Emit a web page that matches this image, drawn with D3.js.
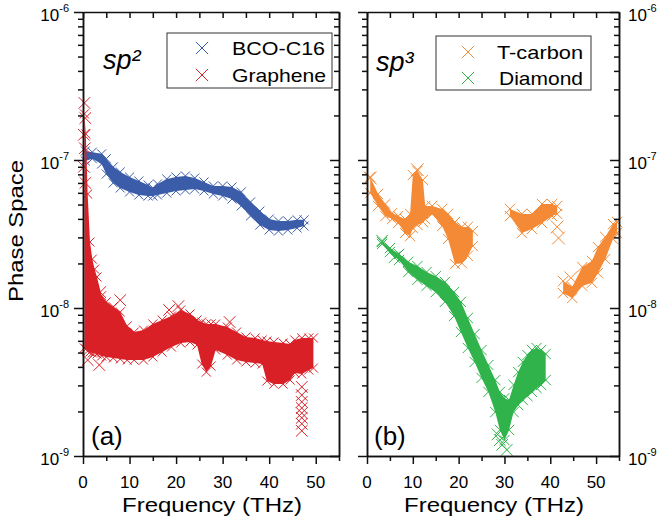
<!DOCTYPE html>
<html>
<head>
<meta charset="utf-8">
<script src="https://cdn.jsdelivr.net/npm/d3@7"></script>
<style>
  body { margin: 0; background: #fff; }
  text { font-family: "Liberation Sans", Arial, sans-serif; fill: #000; }
</style>
</head>
<body>
<div id="chart"></div>
<script>
// ---- data (frequency in THz, phase space) ----
// band edges: upper and lower envelope of the dense scatter
var bcoFreq = [0.5, 2, 4, 5, 6.5, 8, 10, 12, 14, 15, 16, 18, 20, 22, 24, 26, 28, 30, 32, 34, 36, 38, 40, 42, 44, 46, 47.5];
var bcoHigh = [1.15e-7, 1.13e-7, 1.10e-7, 1.02e-7, 8.97e-8, 8.3e-8, 7.67e-8, 7.21e-8, 6.78e-8, 6.47e-8, 6.89e-8, 7.44e-8, 7.67e-8, 7.8e-8, 7.55e-8, 7.1e-8, 6.67e-8, 6.67e-8, 6.57e-8, 6.08e-8, 5.2e-8, 4.52e-8, 3.99e-8, 3.87e-8, 3.87e-8, 3.94e-8, 3.94e-8];
var bcoLow  = [9.85e-8, 1.02e-7, 9.4e-8, 8.04e-8, 7.0e-8, 6.47e-8, 6.08e-8, 5.8e-8, 5.71e-8, 5.71e-8, 5.8e-8, 5.98e-8, 6.18e-8, 6.27e-8, 6.37e-8, 6.18e-8, 5.89e-8, 5.71e-8, 5.45e-8, 4.89e-8, 4.19e-8, 3.64e-8, 3.37e-8, 3.31e-8, 3.37e-8, 3.47e-8, 3.58e-8];

var grFreq = [0.3, 0.6, 1, 1.5, 2, 2.5, 3, 4, 5, 6.5, 8, 9.5, 11, 13, 15, 17, 19, 21, 23, 24.5, 25.5, 26.5, 27.5, 28.5, 31, 33, 35, 37, 38.5, 39.5, 41, 43, 44.5, 45.5, 47, 48.5, 49.5];
var grHigh = [2.05e-7, 1.5e-7, 5.89e-8, 2.79e-8, 2.14e-8, 1.83e-8, 1.62e-8, 1.21e-8, 1.1e-8, 1.02e-8, 9.4e-9, 7.56e-9, 6.88e-9, 7.1e-9, 7.8e-9, 8.3e-9, 8.83e-9, 9.69e-9, 9.11e-9, 8.3e-9, 8.04e-9, 7.8e-9, 7.8e-9, 7.8e-9, 7.44e-9, 6.88e-9, 6.37e-9, 6.27e-9, 6.08e-9, 5.98e-9, 5.89e-9, 5.8e-9, 5.71e-9, 6.08e-9, 6.27e-9, 6.27e-9, 6.27e-9];
var grLow  = [5.37e-9, 5.28e-9, 5.12e-9, 5.04e-9, 4.97e-9, 4.97e-9, 4.89e-9, 4.74e-9, 4.67e-9, 4.59e-9, 4.52e-9, 4.45e-9, 4.45e-9, 4.45e-9, 4.67e-9, 5.04e-9, 5.45e-9, 5.8e-9, 5.89e-9, 5.62e-9, 4.18e-9, 3.69e-9, 4.05e-9, 5.2e-9, 4.81e-9, 4.45e-9, 4.32e-9, 4.25e-9, 4.18e-9, 3.21e-9, 3.06e-9, 3.06e-9, 3.26e-9, 3.64e-9, 3.58e-9, 3.81e-9, 3.93e-9];
var grOutFreq = [0.3, 0.5, 0.2, 0.4, 0.2, 0.5, 3.7, 8, 18.5, 20.5, 31.5, 3.5, 1, 47, 47, 47, 47, 47, 47, 47, 47];
var grOutVal  = [2.43e-7, 1.92e-7, 1.48e-7, 1.2e-7, 9e-8, 7e-8, 1.28e-8, 1.13e-8, 9.7e-9, 1.03e-8, 8.04e-9, 4.12e-9, 4.45e-9, 2.93e-9, 2.58e-9, 2.32e-9, 2.11e-9, 1.95e-9, 1.81e-9, 1.65e-9, 1.48e-9];

// null = no points in that frequency range
var tcFreq = [0.7, 2.4, 4, 5.5, 6.8, 8.3, 9.4, 10, 11, 12.2, 12.7, 14.2, 16.4, 17.7, 19.2, 20.7, 22, 23.1, 27, 31.2, 33.8, 36, 38.2, 40.4, 41.5, 42, 42.8, 44.8, 47, 49.1, 50.4, 52, 53.7, 54.6];
var tcHigh = [7.67e-8, 5.89e-8, 5.04e-8, 4.38e-8, 4.18e-8, 3.99e-8, 4.32e-8, 7.92e-8, 8.43e-8, 7.33e-8, 4.89e-8, 4.89e-8, 4.67e-8, 4.32e-8, 3.81e-8, 3.53e-8, 3.53e-8, 3.31e-8, null, 4.67e-8, 4.32e-8, 4.32e-8, 5.04e-8, 5.04e-8, 4.89e-8, null, 1.52e-8, 1.39e-8, 1.89e-8, 2.08e-8, 2.58e-8, 3.02e-8, 3.69e-8, 3.81e-8];
var tcLow  = [5.98e-8, 4.89e-8, 4.18e-8, 3.99e-8, 3.75e-8, 3.21e-8, 3.06e-8, 3.47e-8, 3.64e-8, 3.81e-8, 3.99e-8, 4.32e-8, 3.58e-8, 2.93e-8, 1.98e-8, 2.01e-8, 2.25e-8, 2.62e-8, null, 4.18e-8, 3.21e-8, 3.42e-8, 3.75e-8, 4.18e-8, 4.32e-8, null, 1.26e-8, 1.17e-8, 1.41e-8, 1.48e-8, 1.72e-8, 2.14e-8, 2.93e-8, 3.21e-8];
var tcOutFreq = [0.7, 11, 41.5, 41.8, 44.5];
var tcOutVal  = [7.56e-8, 8.6e-8, 3.53e-8, 2.97e-8, 1.6e-8];

var dmFreq = [3.3, 5, 7, 9, 11, 13, 15, 17, 19, 20.5, 22, 23.5, 25, 26.5, 28, 29, 30, 31, 32, 33, 34, 35, 36, 37, 38, 39];
var dmHigh = [2.79e-8, 2.54e-8, 2.32e-8, 2.05e-8, 1.92e-8, 1.75e-8, 1.64e-8, 1.5e-8, 1.28e-8, 1.1e-8, 8.56e-9, 6.67e-9, 5.2e-9, 4.12e-9, 3.26e-9, 2.71e-9, 2.46e-9, 2.39e-9, 3.02e-9, 3.69e-9, 4.32e-9, 4.81e-9, 5.2e-9, 5.37e-9, 5.2e-9, 4.89e-9];
var dmLow  = [2.71e-8, 2.39e-8, 2.11e-8, 1.75e-8, 1.55e-8, 1.41e-8, 1.28e-8, 1.1e-8, 8.83e-9, 6.88e-9, 5.37e-9, 4.32e-9, 3.37e-9, 2.71e-9, 1.98e-9, 1.5e-9, 1.28e-9, 1.5e-9, 1.98e-9, 2.21e-9, 2.39e-9, 2.54e-9, 2.71e-9, 2.88e-9, 3.02e-9, 3.26e-9];
var dmOutFreq = [29.5, 30.5, 29, 28.5, 3.3, 6];
var dmOutVal  = [1.19e-9, 1.1e-9, 1.28e-9, 1.4e-9, 2.85e-8, 2.2e-8];

var xTicks = [0, 10, 20, 30, 40, 50];
var yTicks = [1e-9, 1e-8, 1e-7, 1e-6];

var colors = { bco: '#3a5ca9', gr: '#d92027', tc: '#f58a36', dm: '#30b34b' };

var width = 660;
var height = 526;

var svg = d3.select('#chart')
  .append('svg')
  .attr('width', width)
  .attr('height', height);

var y = d3.scaleLog().domain([1e-9, 1e-6]).range([456, 12]);
var xA = d3.scaleLinear().domain([0, 55]).range([83, 339]);
var xB = d3.scaleLinear().domain([0, 55]).range([367, 619]);

var yMinor = y.ticks().filter(function(d) {
  var l = Math.log10(d);
  return Math.abs(l - Math.round(l)) > 1e-6;
});

// X-shaped marker
var timesType = d3.symbolTimes || {
  draw: function(ctx, size) {
    var r = Math.sqrt(size - Math.min(size / 6, 1.7)) * 0.6189;
    ctx.moveTo(-r, -r); ctx.lineTo(r, r);
    ctx.moveTo(-r, r); ctx.lineTo(r, -r);
  }
};

function frame(x) {
  var g = svg.append('g');
  var minorX = [5, 15, 25, 35, 45, 55];
  var allX = d3.range(0, 56, 5);
  var parts = [
    [d3.axisBottom(x).tickValues(xTicks).tickSize(8), 'translate(0,456)'],
    [d3.axisBottom(x).tickValues(minorX).tickSize(5), 'translate(0,456)'],
    [d3.axisBottom(x).tickValues(allX).tickSize(6), 'translate(0,12)'],
    [d3.axisLeft(y).tickValues(yTicks).tickSize(9), 'translate(' + x(0) + ',0)'],
    [d3.axisLeft(y).tickValues(yMinor).tickSize(5), 'translate(' + x(0) + ',0)'],
    [d3.axisLeft(y).tickValues(yTicks).tickSize(9), 'translate(' + x(55) + ',0)'],
    [d3.axisLeft(y).tickValues(yMinor).tickSize(5), 'translate(' + x(55) + ',0)']
  ];
  parts.forEach(function(p) {
    g.append('g')
      .attr('transform', p[1])
      .call(p[0].tickSizeOuter(0).tickFormat(''))
      .call(function(a) {
        a.selectAll('path, line').attr('stroke', '#111').attr('stroke-width', 1.5);
      });
  });

  g.selectAll('.xlab')
    .data(xTicks)
    .enter()
    .append('text')
    .attr('x', function(d) { return x(d); })
    .attr('y', 488)
    .attr('text-anchor', 'middle')
    .attr('font-size', 17)
    .text(function(d) { return d; });

  g.append('text')
    .attr('x', (x(0) + x(55)) / 2 + 1)
    .attr('y', 512)
    .attr('text-anchor', 'middle')
    .attr('font-size', 21)
    .attr('textLength', 180)
    .attr('lengthAdjust', 'spacingAndGlyphs')
    .text('Frequency (THz)');
}

function yLabels(xpos, anchor) {
  var t = svg.selectAll(null)
    .data(yTicks)
    .enter()
    .append('text')
    .attr('x', xpos)
    .attr('y', function(d) { return y(d) + 9; })
    .attr('text-anchor', anchor)
    .attr('font-size', 17);
  t.append('tspan').text('10');
  t.append('tspan')
    .attr('font-size', 11)
    .attr('dy', -9)
    .text(function(d) { return '-' + Math.round(-Math.log10(d)); });
}

function series(x, freq, hi, lo, color, size) {
  var rows = freq.map(function(f, i) { return { f: f, hi: hi[i], lo: lo[i] }; });
  var area = d3.area()
    .defined(function(d) { return d.hi != null; })
    .x(function(d) { return x(d.f); })
    .y0(function(d) { return y(d.lo); })
    .y1(function(d) { return y(d.hi); });
  svg.append('path').datum(rows).attr('d', area).attr('fill', color);

  var pts = [];
  rows.forEach(function(d) {
    if (d.hi != null) { pts.push([d.f, d.hi]); pts.push([d.f, d.lo]); }
  });
  points(x, pts, color, size);
}

function points(x, pts, color, size) {
  svg.append('g')
    .selectAll('path')
    .data(pts)
    .enter()
    .append('path')
    .attr('transform', function(d) { return 'translate(' + x(d[0]) + ',' + y(d[1]) + ')'; })
    .attr('d', d3.symbol().type(timesType).size(size))
    .attr('fill', 'none')
    .attr('stroke', color)
    .attr('stroke-width', 1);
}

function zip(a, b) { return a.map(function(v, i) { return [v, b[i]]; }); }

// panel (a)
series(xA, bcoFreq, bcoHigh, bcoLow, colors.bco, 55);
series(xA, grFreq, grHigh, grLow, colors.gr, 55);
points(xA, zip(grOutFreq, grOutVal), colors.gr, 90);

// panel (b)
series(xB, tcFreq, tcHigh, tcLow, colors.tc, 70);
points(xB, zip(tcOutFreq, tcOutVal), colors.tc, 110);
series(xB, dmFreq, dmHigh, dmLow, colors.dm, 70);
points(xB, zip(dmOutFreq, dmOutVal), colors.dm, 90);

frame(xA);
frame(xB);
yLabels(69, 'end');
yLabels(628, 'start');

svg.append('text')
  .attr('transform', 'translate(23,231) rotate(-90)')
  .attr('text-anchor', 'middle')
  .attr('font-size', 21)
  .attr('textLength', 142)
  .attr('lengthAdjust', 'spacingAndGlyphs')
  .text('Phase Space');

// legends
function legend(x0, y0, w, h, items) {
  var g = svg.append('g');
  g.append('rect')
    .attr('x', x0).attr('y', y0).attr('width', w).attr('height', h)
    .attr('fill', '#fff').attr('stroke', '#333').attr('stroke-width', 1);
  items.forEach(function(it) {
    g.append('path')
      .attr('transform', 'translate(' + it[0] + ',' + it[1] + ')')
      .attr('d', d3.symbol().type(timesType).size(100))
      .attr('fill', 'none').attr('stroke', it[3]).attr('stroke-width', 1);
    g.append('text')
      .attr('x', it[4]).attr('y', it[1] + 7)
      .attr('font-size', 19)
      .attr('textLength', it[5])
      .attr('lengthAdjust', 'spacingAndGlyphs')
      .text(it[2]);
  });
}
legend(167, 33, 165, 55, [
  [202, 48, 'BCO-C16', colors.bco, 232, 93],
  [202, 75, 'Graphene', colors.gr, 232, 94]
]);
legend(436, 36, 155, 54, [
  [468, 52, 'T-carbon', colors.tc, 497, 86],
  [468, 78, 'Diamond', colors.dm, 499, 84]
]);

svg.append('text')
  .attr('x', 103).attr('y', 69)
  .attr('font-family', '"Open Sans", sans-serif')
  .attr('font-style', 'italic')
  .attr('font-size', 27)
  .text('sp\u00b2');
svg.append('text')
  .attr('x', 376).attr('y', 71)
  .attr('font-family', '"Open Sans", sans-serif')
  .attr('font-style', 'italic')
  .attr('font-size', 27)
  .text('sp\u00b3');

svg.append('text')
  .attr('x', 91).attr('y', 445)
  .attr('font-family', '"Open Sans", sans-serif')
  .attr('font-size', 26)
  .text('(a)');
svg.append('text')
  .attr('x', 374).attr('y', 445)
  .attr('font-family', '"Open Sans", sans-serif')
  .attr('font-size', 26)
  .text('(b)');
</script>
</body>
</html>
